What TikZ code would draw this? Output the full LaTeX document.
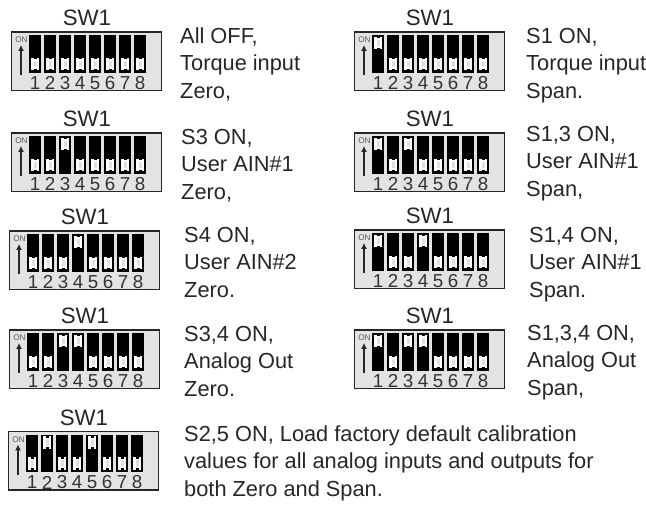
\documentclass[tikz,border=0pt]{standalone}
\usepackage{fontspec}
\setmainfont{Liberation Sans}
\usetikzlibrary{arrows.meta}

\tikzset{
  dipbox/.style={draw=black!85, line width=1.1pt, fill=black!11},
  dipbar/.style={fill=black},
  dipslider/.style={fill=white},
  dipnotch/.style={fill=black!12},
  diptip/.style={fill=black},
  swtitle/.style={inner sep=0pt, text=black!85, font=\fontsize{19}{20}\selectfont},
  swdigit/.style={inner sep=0pt, text=black!80, font=\fontsize{16}{17}\selectfont},
  swon/.style={inner sep=0pt, text=black!65, font=\fontsize{7}{8}\selectfont},
  swarrow/.style={-{Latex[length=5pt,width=5pt]}, line width=0.9pt, black!85},
  swnote/.style={anchor=base west, inner sep=0pt, align=left, text=black!85,
    font=\fontsize{18.6}{23.3}\selectfont},
}

% name, left, top, slider positions (1 = ON)
\newcommand{\dipswitch}[4]{
  \draw [dipbox] (#2,#3) rectangle ++(150,58.5);
  \node [swtitle] (#1title) at (#2+75.5,#3-14) {SW1};
  \node [swon] (#1on) at (#2+10,#3+8) {ON};
  \coordinate (#1tail) at (#2+9.5,#3+43);
  \coordinate (#1head) at (#2+9.5,#3+13);
  \draw [swarrow] (#1tail) -- (#1head);
  \foreach \pos [count=\n] in {#4} {
    \pgfmathsetmacro{\cx}{#2+23.5+15*(\n-1)}
    \pgfmathsetmacro{\sy}{#3+25.5-21*\pos}
    \fill [dipbar] (\cx-6,#3+3) rectangle (\cx+6,#3+40.5);
    \fill [dipslider] (\cx-4,\sy) rectangle (\cx+4,\sy+12.5);
    \fill [dipnotch] (\cx-1.5,\sy+3) rectangle (\cx+1.5,\sy+9.5);
    \fill [diptip] (\cx-1.5,\sy) rectangle (\cx+1.5,\sy+1.5);
    \fill [diptip] (\cx-1.5,\sy+11) rectangle (\cx+1.5,\sy+12.5);
    \node [swdigit] (#1d\n) at (\cx,#3+51) {\n};
  }
}

\begin{document}
\begin{tikzpicture}[x=0.03cm, y=-0.03cm]
  \useasboundingbox (0,0) rectangle (646,504);

  % left column
  \dipswitch{a}{11.5}{32}{0,0,0,0,0,0,0,0}
  \dipswitch{b}{11.5}{133}{0,0,1,0,0,0,0,0}
  \dipswitch{c}{9.5}{231}{0,0,0,1,0,0,0,0}
  \dipswitch{d}{9.5}{330}{0,0,1,1,0,0,0,0}
  \dipswitch{e}{8.5}{431.5}{0,1,0,0,1,0,0,0}

  % right column
  \dipswitch{f}{354.5}{32}{1,0,0,0,0,0,0,0}
  \dipswitch{g}{354.5}{133}{1,0,1,0,0,0,0,0}
  \dipswitch{h}{354.5}{230}{1,0,0,1,0,0,0,0}
  \dipswitch{i}{354.5}{330}{1,0,1,1,0,0,0,0}

  % notes
  \node [swnote] (anote) at (180,98) {All OFF,\\Torque input\\Zero,};
  \node [swnote] (bnote) at (181,199) {S3 ON,\\User AIN\#1\\Zero,};
  \node [swnote] (cnote) at (184,297) {S4 ON,\\User AIN\#2\\Zero.};
  \node [swnote] (dnote) at (184,396) {S3,4 ON,\\Analog Out\\Zero.};
  \node [swnote] (enote) at (184,496) {S2,5 ON, Load factory default calibration\\values for all analog inputs and outputs for\\both Zero and Span.};
  \node [swnote] (fnote) at (526,98) {S1 ON,\\Torque input\\Span.};
  \node [swnote] (gnote) at (526,196) {S1,3 ON,\\User AIN\#1\\Span,};
  \node [swnote] (hnote) at (529,297) {S1,4 ON,\\User AIN\#1\\Span.};
  \node [swnote] (inote) at (527,395) {S1,3,4 ON,\\Analog Out\\Span,};
\end{tikzpicture}
\end{document}
